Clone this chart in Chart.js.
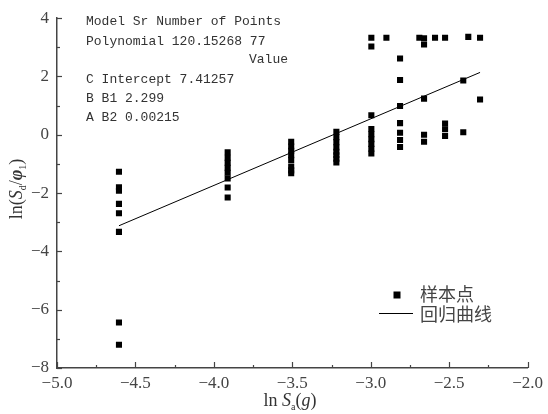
<!DOCTYPE html>
<html>
<head>
<meta charset="utf-8">
<script src="https://cdn.jsdelivr.net/npm/chart.js@4.4.1/dist/chart.umd.min.js"></script>
<style>
  html, body { margin: 0; padding: 0; background: #fff; }
  canvas { display: block; }
</style>
</head>
<body>
<canvas id="chartFit" width="548" height="414"></canvas>
<script>
// Dữ liệu: ln Sa (x) và ln(Sd/φ1) (y)
const sampleX = [
  -4.605, -4.605, -4.605, -4.605, -4.605, -4.605, -4.605, -4.605,
  -3.912, -3.912, -3.912, -3.912, -3.912, -3.912, -3.912, -3.912,
  -3.507, -3.507, -3.507, -3.507, -3.507, -3.507, -3.507, -3.507,
  -3.219, -3.219, -3.219, -3.219, -3.219, -3.219, -3.219, -3.219,
  -2.996, -2.996, -2.996, -2.996, -2.996, -2.996, -2.996, -2.996, -2.996,
  -2.90,
  -2.813, -2.813, -2.813, -2.813, -2.813, -2.813, -2.813,
  -2.69,
  -2.66, -2.66, -2.66, -2.66, -2.66,
  -2.59,
  -2.526, -2.526, -2.526, -2.526,
  -2.41, -2.41,
  -2.378,
  -2.303, -2.303
];
const sampleY = [
  -1.27, -1.80, -1.92, -2.37, -2.69, -3.33, -6.44, -7.20,
  -0.60, -0.79, -0.96, -1.13, -1.30, -1.50, -1.81, -2.15,
  -0.24, -0.40, -0.55, -0.70, -0.86, -1.09, -1.22, -1.32,
  0.10, -0.08, -0.25, -0.43, -0.58, -0.70, -0.82, -0.95,
  3.33, 3.03, 0.67, 0.20, 0.02, -0.15, -0.31, -0.48, -0.64,
  3.33,
  2.62, 1.88, 0.99, 0.40, 0.07, -0.18, -0.42,
  3.33,
  3.31, 3.10, 1.24, 0.00, -0.24,
  3.33,
  3.33, 0.385, 0.19, -0.04,
  1.86, 0.09,
  3.36,
  3.33, 1.21
];
// Đường hồi quy (hai đầu mút)
const fitX = [-4.605, -2.303];
const fitY = [-3.12, 2.14];

const xTicks = [-5.0, -4.5, -4.0, -3.5, -3.0, -2.5, -2.0];
const yTicks = [-8, -6, -4, -2, 0, 2, 4];

const infoLines = [
  'Model Sr Number of Points',
  'Polynomial 120.15268 77',
  'Value',
  'C Intercept 7.41257',
  'B B1 2.299',
  'A B2 0.00215'
];
const legendLabels = ['样本点', '回归曲线'];

const points = sampleX.map((x, i) => ({x: x, y: sampleY[i]}));
const fitPoints = fitX.map((x, i) => ({x: x, y: fitY[i]}));

function fmt(v, d) {
  const s = d ? Math.abs(v).toFixed(d) : String(Math.abs(v));
  return (v < 0 ? '\u2212' : '') + s;
}

// vẽ chữ nhiều kiểu (nghiêng, chỉ số dưới)
function richText(ctx, parts, x, y) {
  let total = 0;
  parts.forEach(p => { ctx.font = p.font; total += ctx.measureText(p.t).width; });
  let cx = x - total / 2;
  parts.forEach(p => {
    ctx.font = p.font;
    ctx.fillText(p.t, cx, y + (p.dy || 0));
    cx += ctx.measureText(p.t).width;
  });
}

const decorPlugin = {
  id: 'decor',
  afterDraw(chart) {
    const ctx = chart.ctx;
    const xs = chart.scales.x, ys = chart.scales.y;
    const a = chart.chartArea;
    ctx.save();
    // vạch chia hướng vào trong
    ctx.strokeStyle = '#444';
    ctx.lineWidth = 1.2;
    for (let i = 0; i <= 12; i++) {
      const v = -5 + i * 0.25;
      const px = Math.round(xs.getPixelForValue(v)) + 0.5;
      const len = i % 2 === 0 ? 6 : 3;
      ctx.beginPath(); ctx.moveTo(px, a.bottom); ctx.lineTo(px, a.bottom - len); ctx.stroke();
    }
    for (let v = -8; v <= 4; v++) {
      const py = Math.round(ys.getPixelForValue(v)) + 0.5;
      const len = v % 2 === 0 ? 5 : 3;
      ctx.beginPath(); ctx.moveTo(a.left, py); ctx.lineTo(a.left + len, py); ctx.stroke();
    }

    // bảng thông số
    ctx.fillStyle = '#333';
    ctx.font = '13px "Liberation Mono"';
    ctx.textBaseline = 'middle';
    ctx.textAlign = 'left';
    const infoY = [21.7, 41.7, 59.3, 80, 98.3, 117.3];
    infoLines.forEach((t, i) => ctx.fillText(t, i === 2 ? 249 : 86, infoY[i]));

    // chú giải
    ctx.fillStyle = '#000';
    ctx.fillRect(393.5, 291.5, 7, 7);
    ctx.strokeStyle = '#000';
    ctx.lineWidth = 1;
    ctx.beginPath(); ctx.moveTo(379, 313.5); ctx.lineTo(413, 313.5); ctx.stroke();
    ctx.fillStyle = '#444';
    ctx.font = '18px "Noto Sans CJK SC"';
    ctx.fillText(legendLabels[0], 420, 294);
    ctx.fillText(legendLabels[1], 420, 314.5);

    // tiêu đề trục
    ctx.fillStyle = '#333';
    ctx.textBaseline = 'alphabetic';
    const serif = '"Liberation Serif"';
    richText(ctx, [
      {t: 'ln ', font: '18px ' + serif},
      {t: 'S', font: 'italic 18px ' + serif},
      {t: 'a', font: '10px ' + serif, dy: 4},
      {t: '(', font: '18px ' + serif},
      {t: 'g', font: 'italic 18px ' + serif},
      {t: ')', font: '18px ' + serif}
    ], 290, 406);

    ctx.translate(22, 189);
    ctx.rotate(-Math.PI / 2);
    richText(ctx, [
      {t: 'ln(', font: '18px ' + serif},
      {t: 'S', font: 'italic 18px ' + serif},
      {t: 'd', font: '10px ' + serif, dy: 4},
      {t: '/', font: '18px ' + serif},
      {t: '\u03C6', font: 'bold italic 18px ' + serif},
      {t: '1', font: '10px ' + serif, dy: 4},
      {t: ')', font: '18px ' + serif}
    ], 0, 0);
    ctx.restore();
  }
};

const canvas = document.getElementById('chartFit');
const myChart = new Chart(canvas.getContext('2d'), {
  type: 'scatter',
  data: {
    datasets: [{
      label: legendLabels[0],
      data: points,
      pointStyle: 'rect',
      pointRadius: 4.3,
      pointBorderWidth: 0,
      backgroundColor: '#000',
      borderColor: '#000'
    }, {
      type: 'line',
      label: legendLabels[1],
      data: fitPoints,
      borderColor: '#000',
      borderWidth: 1,
      pointRadius: 0,
      fill: false
    }]
  },
  options: {
    responsive: false,
    animation: false,
    devicePixelRatio: 1,
    layout: {padding: {top: 13, right: 20, left: 0, bottom: 0}},
    plugins: {legend: {display: false}, tooltip: {enabled: false}},
    scales: {
      x: {
        type: 'linear',
        min: -5, max: -2,
        afterBuildTicks: s => { s.ticks = xTicks.map(v => ({value: v})); },
        afterFit: s => { s.height = 46; },
        grid: {display: false, drawTicks: false},
        border: {display: true, color: '#444', width: 1.5},
        ticks: {
          padding: 5,
          color: '#444',
          font: {family: 'Liberation Serif', size: 17},
          callback: v => fmt(v, 1)
        }
      },
      y: {
        min: -8, max: 4,
        afterBuildTicks: s => { s.ticks = yTicks.map(v => ({value: v})); },
        afterFit: s => { s.width = 57; },
        grid: {display: false, drawTicks: false},
        border: {display: true, color: '#444', width: 1.5},
        ticks: {
          padding: 8,
          color: '#444',
          font: {family: 'Liberation Serif', size: 17},
          callback: v => fmt(v, 0)
        }
      }
    }
  },
  plugins: [decorPlugin]
});
</script>
</body>
</html>
